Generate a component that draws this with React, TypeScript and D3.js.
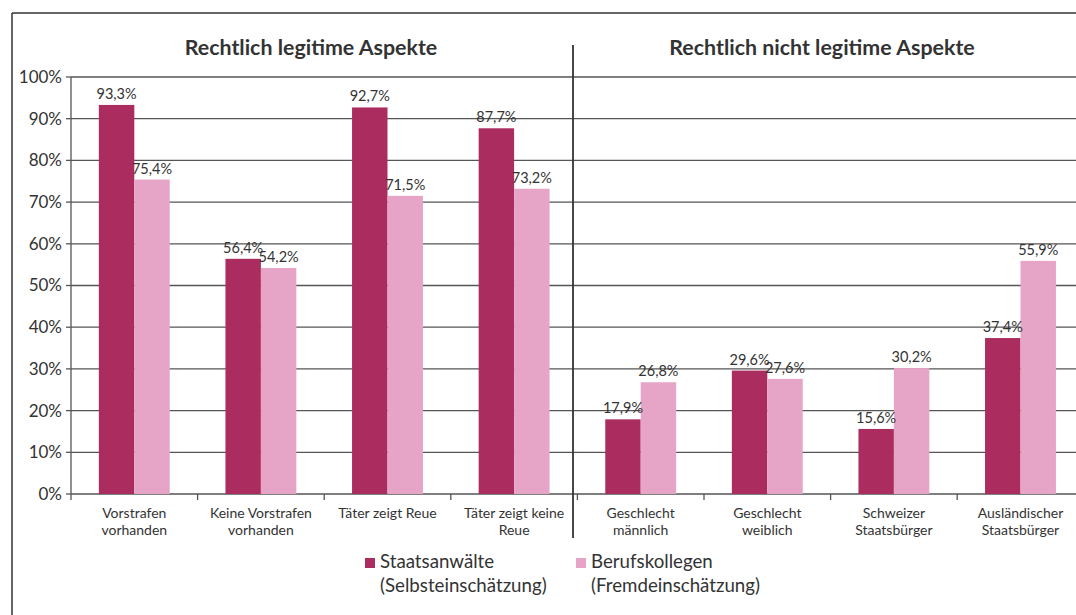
import React from "react";
import * as d3 from "d3";

const categories: string[][] = [
  ["Vorstrafen", "vorhanden"],
  ["Keine Vorstrafen", "vorhanden"],
  ["Täter zeigt Reue"],
  ["Täter zeigt keine", "Reue"],
  ["Geschlecht", "männlich"],
  ["Geschlecht", "weiblich"],
  ["Schweizer", "Staatsbürger"],
  ["Ausländischer", "Staatsbürger"],
];
const staatsanwaelte = [93.3, 56.4, 92.7, 87.7, 17.9, 29.6, 15.6, 37.4];
const berufskollegen = [75.4, 54.2, 71.5, 73.2, 26.8, 27.6, 30.2, 55.9];
const yTicks = [0, 10, 20, 30, 40, 50, 60, 70, 80, 90, 100];
const seriesNames = [
  ["Staatsanwälte", "(Selbsteinschätzung)"],
  ["Berufskollegen", "(Fremdeinschätzung)"],
];
const groupTitles = ["Rechtlich legitime Aspekte", "Rechtlich nicht legitime Aspekte"];

const DARK = "#ab2c5e";
const LIGHT = "#e6a5c6";
const FONT = "Lato, 'Open Sans', sans-serif";

export default function App() {
  const W = 1076, H = 615;
  const x0 = 71, bandW = 126.6;
  const x = d3.scaleBand<number>().domain(d3.range(categories.length)).range([x0, x0 + bandW * categories.length]).paddingInner(0).paddingOuter(0);
  const y = d3.scaleLinear().domain([0, 100]).range([494, 77]);
  const barW = bandW * 0.28;
  const fmt = (v: number) => v.toFixed(1).replace(".", ",") + "%";
  const sepX = 573;
  return (
    <svg width={W} height={H} style={{ position: "absolute", left: 0, top: 0, background: "#fff" }} fontFamily={FONT}>
      <rect x={0} y={0} width={W} height={H} fill="#fff" />
      {/* frame */}
      <line x1={12} y1={13} x2={W} y2={13} stroke="#333" strokeWidth={1.5} />
      <line x1={12} y1={13} x2={12} y2={H} stroke="#333" strokeWidth={1.5} />
      {/* titles */}
      <text x={311} y={55} textAnchor="middle" fontSize={21.4} fontWeight={700} fill="#333">{groupTitles[0]}</text>
      <text x={822} y={55} textAnchor="middle" fontSize={21.4} fontWeight={700} fill="#333">{groupTitles[1]}</text>
      {/* gridlines */}
      {yTicks.map((t) => (
        <g key={t}>
          <line x1={x0} x2={W} y1={y(t)} y2={y(t)} stroke="#555" strokeWidth={1.3} />
          <line x1={x0 - 5} x2={x0} y1={y(t)} y2={y(t)} stroke="#555" strokeWidth={1.3} />
          <text x={62} y={y(t)} dy="0.35em" textAnchor="end" fontSize={17} fill="#333">{t}%</text>
        </g>
      ))}
      <line x1={x0} x2={x0} y1={y(100)} y2={y(0) + 6} stroke="#555" strokeWidth={1.3} />
      {/* bars */}
      {categories.map((c, i) => {
        const cx = (x(i) as number) + x.bandwidth() / 2;
        return (
          <g key={i}>
            <rect x={cx - barW} y={y(staatsanwaelte[i])} width={barW} height={y(0) - y(staatsanwaelte[i])} fill={DARK} />
            <rect x={cx} y={y(berufskollegen[i])} width={barW} height={y(0) - y(berufskollegen[i])} fill={LIGHT} />
            <text x={cx - barW / 2} y={y(staatsanwaelte[i]) - 6} textAnchor="middle" fontSize={14.5} fill="#333">{fmt(staatsanwaelte[i])}</text>
            <text x={cx + barW / 2} y={y(berufskollegen[i]) - 6} textAnchor="middle" fontSize={14.5} fill="#333">{fmt(berufskollegen[i])}</text>
            <line x1={(x(i) as number) + bandW} x2={(x(i) as number) + bandW} y1={y(0)} y2={y(0) + 6} stroke="#555" strokeWidth={1.3} />
            {c.map((ln, j) => (
              <text key={j} x={cx} y={518 + j * 17} textAnchor="middle" fontSize={14} fill="#333">{ln}</text>
            ))}
          </g>
        );
      })}
      {/* separator */}
      <line x1={sepX} x2={sepX} y1={45} y2={538} stroke="#333" strokeWidth={1.8} />
      {/* legend */}
      {[DARK, LIGHT].map((col, k) => {
        const lx = k === 0 ? 365 : 576;
        return (
          <g key={k}>
            <rect x={lx} y={558} width={10} height={10} fill={col} />
            <text x={lx + 15} y={568} fontSize={18.7} fill="#333">{seriesNames[k][0]}</text>
            <text x={lx + 15} y={592} fontSize={18.7} fill="#333">{seriesNames[k][1]}</text>
          </g>
        );
      })}
    </svg>
  );
}
